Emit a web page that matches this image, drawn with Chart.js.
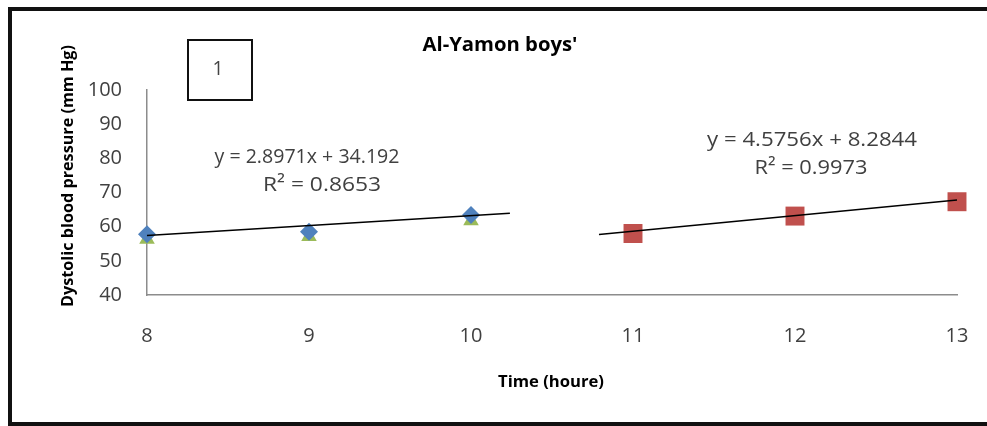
<!DOCTYPE html>
<html>
<head>
<meta charset="utf-8">
<script src="https://cdn.jsdelivr.net/npm/chart.js@4.4.0/dist/chart.umd.min.js"></script>
<style>
  html, body { margin: 0; padding: 0; background: #fff; }
  #wrap { width: 987px; height: 426px; position: relative; }
</style>
</head>
<body>
<div id="wrap"><canvas id="c" width="987" height="426"></canvas></div>
<script>
// ---- data ----
const chartTitle = "Al-Yamon boys'";
const xAxisTitle = "Time (houre)";
const yAxisTitle = "Dystolic blood pressure (mm Hg)";
const panelLabel = "1";

const hoursA = [8, 9, 10];
const blueValues = [57.8, 58.5, 63.4];
const greenValues = [56.3, 57.1, 61.7];

const hoursB = [11, 12, 13];
const redValues = [58.0, 63.1, 67.3];

// trend lines (end points)
const trendAx = [8, 10.24];
const trendAy = [57.4, 63.9];
const trendBx = [10.79, 13];
const trendBy = [57.7, 67.8];

const eqA = ["y = 2.8971x + 34.192", "R² = 0.8653"];
const eqB = ["y = 4.5756x + 8.2844", "R² = 0.9973"];

const yTicks = [40, 50, 60, 70, 80, 90, 100];
const xTicks = [8, 9, 10, 11, 12, 13];

const toPts = (xs, ys) => xs.map((x, i) => ({x: x, y: ys[i]}));

// draw text centred at (cx, cy), stretched horizontally to a given width
function fitText(ctx, text, cx, cy, font, width, color, rot) {
  ctx.save();
  ctx.font = font;
  ctx.fillStyle = color;
  ctx.textAlign = 'center';
  ctx.textBaseline = 'middle';
  const w = ctx.measureText(text).width;
  ctx.translate(cx, cy);
  if (rot) ctx.rotate(rot);
  ctx.scale(width / w, 1);
  ctx.fillText(text, 0, 0);
  ctx.restore();
}

const decor = {
  id: 'decor',
  afterDraw(chart) {
    const ctx = chart.ctx;
    ctx.save();
    // outer frame
    ctx.fillStyle = '#111';
    ctx.fillRect(8, 7, 987 - 8, 4);
    ctx.fillRect(8, 7, 4, 426 - 7);
    ctx.fillRect(8, 422, 987 - 8, 4);
    // panel box
    ctx.strokeStyle = '#111';
    ctx.lineWidth = 2;
    ctx.strokeRect(188, 40, 64, 60);
    ctx.restore();
    fitText(ctx, panelLabel, 218, 69, '20px "Open Sans"', 11, '#444');
    // titles
    fitText(ctx, chartTitle, 500, 45, 'bold 20px "Open Sans"', 155, '#000');
    fitText(ctx, xAxisTitle, 551, 382, 'bold 16px "Open Sans"', 106, '#000');
    fitText(ctx, yAxisTitle, 68, 176, 'bold 16px "Open Sans"', 262, '#000', -Math.PI / 2);
    // equations
    fitText(ctx, eqA[0], 307, 157, '20px "Open Sans"', 185, '#404040');
    fitText(ctx, eqA[1], 322, 185, '20px "Open Sans"', 118, '#404040');
    fitText(ctx, eqB[0], 812, 140, '20px "Open Sans"', 210, '#404040');
    fitText(ctx, eqB[1], 811, 168, '20px "Open Sans"', 113, '#404040');
  }
};

new Chart(document.getElementById('c'), {
  type: 'scatter',
  data: {
    datasets: [
      {
        label: 'trend A', data: toPts(trendAx, trendAy), showLine: true,
        borderColor: '#000', borderWidth: 1.5, pointRadius: 0, order: 0, clip: false
      },
      {
        label: 'trend B', data: toPts(trendBx, trendBy), showLine: true,
        borderColor: '#000', borderWidth: 1.5, pointRadius: 0, order: 0, clip: false
      },
      {
        label: 'blue', data: toPts(hoursA, blueValues), pointStyle: 'rectRot',
        pointRadius: 9, backgroundColor: '#4F81BD', borderColor: '#4F81BD', borderWidth: 0, order: 1, clip: false
      },
      {
        label: 'red', data: toPts(hoursB, redValues), pointStyle: 'rect',
        pointRadius: 13.4, backgroundColor: '#C0504D', borderColor: '#C0504D', borderWidth: 0, order: 1, clip: false
      },
      {
        label: 'green', data: toPts(hoursA, greenValues), pointStyle: 'triangle',
        pointRadius: 9, backgroundColor: '#9BBB59', borderColor: '#9BBB59', borderWidth: 0, order: 2, clip: false
      }
    ]
  },
  options: {
    responsive: false,
    animation: false,
    events: [],
    layout: { padding: { top: 90, right: 30, left: 0, bottom: 0 } },
    plugins: { legend: { display: false }, tooltip: { enabled: false }, title: { display: false } },
    scales: {
      x: {
        type: 'linear', min: 8, max: 13,
        afterBuildTicks(scale) { scale.ticks = xTicks.map(v => ({value: v})); },
        afterFit(scale) { scale.height = 131; scale.paddingLeft = 0; scale.paddingRight = 0; },
        grid: { display: true, drawOnChartArea: false, drawTicks: false },
        border: { display: true, color: '#8c8c8c', width: 1.5 },
        ticks: { padding: 29, color: '#404040', font: { family: 'Open Sans', size: 20 } }
      },
      y: {
        type: 'linear', min: 40, max: 100,
        afterBuildTicks(scale) { scale.ticks = yTicks.map(v => ({value: v})); },
        afterFit(scale) { scale.width = 147; scale.paddingTop = 0; scale.paddingBottom = 0; },
        grid: { display: true, drawOnChartArea: false, drawTicks: false },
        border: { display: true, color: '#8c8c8c', width: 1.5 },
        ticks: { padding: 25, color: '#404040', font: { family: 'Open Sans', size: 20 } }
      }
    }
  },
  plugins: [decor]
});
</script>
</body>
</html>
